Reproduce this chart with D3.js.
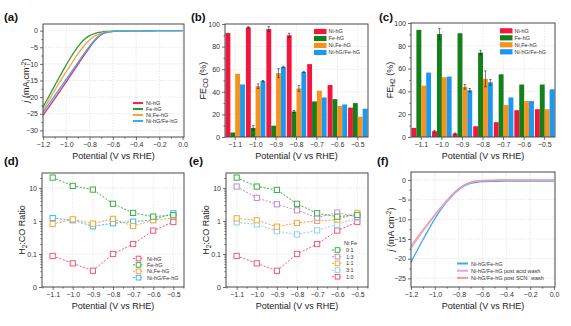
<!DOCTYPE html>
<html><head><meta charset="utf-8">
<script src="https://cdn.jsdelivr.net/npm/d3@7"></script>
<style>
body{margin:0;background:#fff}
svg{display:block;font-family:Arial,"Liberation Sans",sans-serif}
</style>
</head><body>
<svg id="fig" width="571" height="326"></svg>
<script>
// ---------- data ----------
const potentials = [-1.1, -1.0, -0.9, -0.8, -0.7, -0.6, -0.5];
const catalysts = ["Ni-hG", "Fe-hG", "Ni,Fe-hG", "Ni-hG/Fe-hG"];
const ratioLabels = ["0:1", "1:3", "1:1", "3:1", "1:0"];

// LSV curves, panel (a)
const lsvV = [-1.2,-1.15,-1.1,-1.05,-1.0,-0.95,-0.9,-0.85,-0.8,-0.75,-0.7,-0.65,-0.6,-0.55,-0.5,-0.4,-0.3,-0.2,-0.1,0];
const lsvNi   = [-25.5,-23,-20.5,-18,-15.4,-12.8,-10.2,-7.6,-5.1,-2.8,-1.2,-0.5,-0.25,-0.15,-0.1,-0.05,-0.03,-0.02,-0.01,0];
const lsvFe   = [-23,-19.8,-16.6,-13.4,-10.3,-7.4,-4.8,-2.8,-1.5,-0.8,-0.45,-0.25,-0.15,-0.1,-0.07,-0.04,-0.03,-0.02,-0.01,0];
const lsvNiFe = [-24,-21,-18,-15.1,-12.3,-9.6,-7,-4.7,-2.8,-1.5,-0.8,-0.4,-0.2,-0.12,-0.08,-0.05,-0.03,-0.02,-0.01,0];
const lsvMix  = [-24.6,-22.1,-19.6,-17.1,-14.6,-12.1,-9.6,-7.1,-4.7,-2.6,-1.1,-0.5,-0.25,-0.15,-0.1,-0.05,-0.03,-0.02,-0.01,0];

// Faradaic efficiencies, panel (b) CO and (c) H2
const feCO_Ni   = [92, 97, 95.5, 90, 64.5, 46, 26];
const feCO_Fe   = [4, 8, 10, 22.5, 31.5, 33.5, 30];
const feCO_NiFe = [56, 45, 56.5, 43, 41, 27.5, 18];
const feCO_Mix  = [46.5, 49.5, 62, 57.5, 35, 28.8, 25];
const errCO_Ni   = [0, 0.6, 2.2, 1.8, 0, 0, 0];
const errCO_Fe   = [0, 2, 0, 1, 0, 0, 0];
const errCO_NiFe = [0, 2, 4, 2.5, 0, 0, 0];
const errCO_Mix  = [0, 0.5, 0.6, 0.6, 0, 0, 0];

const feH2_Ni   = [8, 5, 3, 9.4, 13, 23.5, 24.4];
const feH2_Fe   = [94, 90.3, 91, 74, 55, 46, 46];
const feH2_NiFe = [45, 52.4, 44, 51, 28, 31.5, 24.4];
const feH2_Mix  = [56.5, 53, 41, 48, 34.7, 31.5, 41.8];
const errH2_Ni   = [0, 0.8, 0.5, 0, 0, 0, 0];
const errH2_Fe   = [0, 5, 0, 2, 0, 0, 0];
const errH2_NiFe = [0, 0, 2, 7, 0, 0, 0];
const errH2_Mix  = [0, 0, 1.5, 2.5, 0, 0, 0];

// H2:CO ratios, panel (d)
const ratioNi   = [0.087, 0.052, 0.031, 0.1, 0.2, 0.51, 0.93];
const ratioFe   = [20.5, 11.5, 8.9, 3.3, 1.75, 1.35, 1.5];
const ratioNiFe = [0.81, 1.12, 0.83, 1.15, 0.7, 1.05, 1.23];
const ratioMix  = [1.23, 1.05, 0.69, 0.85, 0.95, 1.07, 1.7];

// H2:CO ratios vs Ni:Fe composition, panel (e)
const ratio01 = [20.5, 11, 8.7, 3.3, 1.7, 1.35, 1.52];
const ratio13 = [11, 5, 3.2, 2.1, 1.26, 1.8, 1.32];
const ratio11 = [1.2, 1.05, 0.67, 0.87, 1.0, 1.1, 1.75];
const ratio31 = [0.91, 0.79, 0.49, 0.39, 0.52, 0.77, 1.26];
const ratio10 = [0.087, 0.052, 0.031, 0.1, 0.2, 0.51, 0.93];

// LSV stability after washing, panel (f)
const washV     = [-1.2,-1.1,-1.0,-0.9,-0.85,-0.8,-0.75,-0.7,-0.65,-0.6,-0.5,-0.4,-0.2,0];
const washMix   = [-20.9,-15.2,-9.9,-5.6,-3.9,-2.5,-1.5,-0.9,-0.6,-0.45,-0.35,-0.3,-0.3,-0.3];
const washAcid  = [-17.4,-13.1,-9.1,-5.4,-3.7,-2.3,-1.3,-0.7,-0.4,-0.25,-0.15,-0.1,-0.05,-0.05];
const washSCN   = [-16.8,-12.7,-8.8,-5.2,-3.6,-2.2,-1.2,-0.55,-0.25,-0.12,-0.05,0,0,0];
const washLabels = ["Ni-hG/Fe-hG", "Ni-hG/Fe-hG post acid wash", "Ni-hG/Fe-hG post SCN\u207B wash"];

// ---------- styling ----------
const FONT = 'Arial, "Liberation Sans", sans-serif';
const barColors  = ["#f2163f", "#13801a", "#f7931d", "#1d98f1"];
const lsvColors  = ["#f2294f", "#2f9a38", "#f8a445", "#35aef5"];
const dotColors  = ["#f45877", "#3dae45", "#f8a63c", "#3db4f2"];
const compColors = ["#3dae45", "#c48ad8", "#f8a63c", "#8cd2f4", "#f45877"];
const washColors = ["#36acf5", "#d8a8ea", "#f79a9a"];

const svg = d3.select("#fig");

const boxes = {
  a: {x: 43, y: 24, w: 141, h: 113},
  b: {x: 225, y: 24, w: 143, h: 113},
  c: {x: 411, y: 23, w: 144, h: 114},
  d: {x: 42, y: 173, w: 142, h: 114},
  e: {x: 226, y: 173, w: 142, h: 114},
  f: {x: 411, y: 172, w: 144, h: 115}
};

function panel(b) { return svg.append("g").attr("transform", `translate(${b.x},${b.y})`); }

function frame(g, b) {
  g.append("rect").attr("width", b.w).attr("height", b.h)
    .attr("fill", "none").attr("stroke", "#4a4a4a").attr("stroke-width", 1);
}

function styleAxis(sel) {
  sel.select(".domain").remove();
  sel.selectAll("line").attr("stroke", "#4a4a4a").attr("stroke-width", 0.8);
  sel.selectAll("text").attr("font-size", 7).attr("fill", "#333").attr("font-family", FONT);
}

function hGrid(g, b, y, vals) {
  g.append("g").selectAll("line").data(vals).join("line")
    .attr("x1", 0).attr("x2", b.w).attr("y1", d => y(d)).attr("y2", d => y(d))
    .attr("stroke", "#d4d4d4").attr("stroke-width", 0.6).attr("stroke-dasharray", "1.2,1.4");
}
function vGrid(g, b, xs) {
  g.append("g").selectAll("line").data(xs).join("line")
    .attr("y1", 0).attr("y2", b.h).attr("x1", d => d).attr("x2", d => d)
    .attr("stroke", "#d4d4d4").attr("stroke-width", 0.6).attr("stroke-dasharray", "1.2,1.4");
}

function bottomAxis(g, b, scale, major, minor, fmt) {
  if (minor) {
    g.append("g").attr("transform", `translate(0,${b.h})`)
      .call(d3.axisBottom(scale).tickValues(minor).tickSize(1.6).tickFormat(""))
      .call(styleAxis);
  }
  const ax = d3.axisBottom(scale).tickSize(3).tickPadding(2);
  if (major) ax.tickValues(major);
  if (fmt) ax.tickFormat(fmt);
  g.append("g").attr("transform", `translate(0,${b.h})`).call(ax).call(styleAxis);
}
function leftAxis(g, scale, major, minor, fmt) {
  if (minor) {
    g.append("g").call(d3.axisLeft(scale).tickValues(minor).tickSize(1.6).tickFormat(""))
      .call(styleAxis);
  }
  g.append("g").call(d3.axisLeft(scale).tickValues(major).tickSize(3).tickPadding(2).tickFormat(fmt))
    .call(styleAxis);
}

function panelLabel(x, y, t) {
  svg.append("text").attr("x", x).attr("y", y).attr("font-size", 11.5).attr("font-weight", "bold")
    .attr("fill", "#111").attr("font-family", FONT).text(t);
}
function xTitle(b, y) {
  svg.append("text").attr("x", b.x + b.w / 2).attr("y", y).attr("text-anchor", "middle")
    .attr("font-size", 9).attr("fill", "#222").attr("font-family", FONT).text("Potential (V vs RHE)");
}
// rotated y title built from [text, kind] parts: kind = "", "sub", "sup", "it"
function yTitle(x, cy, parts) {
  const t = svg.append("text").attr("transform", `translate(${x},${cy}) rotate(-90)`)
    .attr("text-anchor", "middle").attr("font-size", 9).attr("fill", "#222").attr("font-family", FONT);
  let shift = 0;
  parts.forEach(([s, k]) => {
    const sp = t.append("tspan").text(s);
    let target = 0;
    if (k === "sub") { sp.attr("font-size", 6.5); target = 2.2; }
    if (k === "sup") { sp.attr("font-size", 6.5); target = -3.2; }
    if (k === "it") sp.attr("font-style", "italic");
    sp.attr("dy", target - shift);
    shift = target;
  });
}

const fmt1 = d3.format(".1f");
const potFmt = d => fmt1(d);

// ---------- (a) LSV ----------
(function () {
  const b = boxes.a, g = panel(b);
  const x = d3.scaleLinear().domain([-1.2, 0.012]).range([0, b.w]);
  const y = d3.scaleLinear().domain([-32, 2]).range([b.h, 0]);
  const yMaj = [0, -5, -10, -15, -20, -25, -30];
  const xMaj = [-1.2, -1.0, -0.8, -0.6, -0.4, -0.2, 0.0];
  hGrid(g, b, y, yMaj);
  vGrid(g, b, xMaj.map(x));
  const series = [lsvNi, lsvFe, lsvNiFe, lsvMix];
  const line = d3.line().x((d, i) => x(lsvV[i])).y(d => y(d)).curve(d3.curveMonotoneX);
  series.forEach((s, k) => {
    g.append("path").datum(s).attr("d", line).attr("fill", "none")
      .attr("stroke", lsvColors[k]).attr("stroke-width", 1.3);
  });
  frame(g, b);
  bottomAxis(g, b, x, xMaj, d3.range(-1.1, 0, 0.2).map(v => +v.toFixed(1)), potFmt);
  leftAxis(g, y, yMaj, d3.range(-2.5, -32, -5), d3.format("d"));
  const lg = g.append("g").attr("transform", "translate(90,79)");
  catalysts.forEach((c, k) => {
    lg.append("line").attr("x1", 0).attr("x2", 10).attr("y1", k * 6).attr("y2", k * 6)
      .attr("stroke", lsvColors[k]).attr("stroke-width", 2);
    lg.append("text").attr("x", 13).attr("y", k * 6 + 2).attr("font-size", 5.5)
      .attr("fill", "#333").attr("font-family", FONT).text(c);
  });
})();

// ---------- bar panels (b), (c) ----------
function barPanel(b, seriesList, errList, legendPos) {
  const g = panel(b);
  const x = d3.scaleBand().domain(potentials).range([0, b.w]).padding(0);
  const xs = d3.scaleBand().domain(catalysts).range([0, x.bandwidth()]).paddingInner(0).paddingOuter(0.1);
  const y = d3.scaleLinear().domain([0, 100]).range([b.h, 0]);
  const yMaj = [0, 20, 40, 60, 80, 100];
  hGrid(g, b, y, yMaj.slice(1, 5));
  vGrid(g, b, potentials.map(p => x(p) + x.bandwidth() / 2));
  seriesList.forEach((s, k) => {
    g.append("g").selectAll("rect").data(s).join("rect")
      .attr("x", (d, i) => x(potentials[i]) + xs(catalysts[k]))
      .attr("width", xs.bandwidth())
      .attr("y", d => y(d)).attr("height", d => b.h - y(d))
      .attr("fill", barColors[k]);
    const eg = g.append("g").attr("stroke", "#222").attr("stroke-width", 0.6);
    s.forEach((v, i) => {
      const e = errList[k][i];
      if (!e) return;
      const cx = x(potentials[i]) + xs(catalysts[k]) + xs.bandwidth() / 2;
      eg.append("line").attr("x1", cx).attr("x2", cx).attr("y1", y(v - e)).attr("y2", y(v + e));
      eg.append("line").attr("x1", cx - 1.2).attr("x2", cx + 1.2).attr("y1", y(v + e)).attr("y2", y(v + e));
      eg.append("line").attr("x1", cx - 1.2).attr("x2", cx + 1.2).attr("y1", y(v - e)).attr("y2", y(v - e));
    });
  });
  frame(g, b);
  bottomAxis(g, b, x, null, null, potFmt);
  leftAxis(g, y, yMaj, [10, 30, 50, 70, 90], d3.format("d"));
  const lg = g.append("g").attr("transform", `translate(${legendPos[0]},${legendPos[1]})`);
  catalysts.forEach((c, k) => {
    lg.append("rect").attr("x", 0).attr("y", k * 7 - 2.6).attr("width", 12.5).attr("height", 5.2)
      .attr("fill", barColors[k]);
    lg.append("text").attr("x", 14.5).attr("y", k * 7 + 1.9).attr("font-size", 5.5)
      .attr("fill", "#333").attr("font-family", FONT).text(c);
  });
}
barPanel(boxes.b, [feCO_Ni, feCO_Fe, feCO_NiFe, feCO_Mix],
  [errCO_Ni, errCO_Fe, errCO_NiFe, errCO_Mix], [89, 7.5]);
barPanel(boxes.c, [feH2_Ni, feH2_Fe, feH2_NiFe, feH2_Mix],
  [errH2_Ni, errH2_Fe, errH2_NiFe, errH2_Mix], [89, 7.8]);

// ---------- ratio panels (d), (e) ----------
function ratioPanel(b, seriesList, colors, labels, legendPos, legendTitle) {
  const g = panel(b);
  const x = d3.scaleLinear().domain([-1.153, -0.447]).range([0, b.w]);
  const y = d3.scaleLog().domain([0.01, 28.3]).range([b.h, 0]);
  const yMaj = [0.01, 0.1, 1, 10];
  hGrid(g, b, y, [0.1, 1, 10]);
  vGrid(g, b, potentials.map(x));
  const minor = [];
  [0.01, 0.1, 1, 10].forEach(dec => d3.range(2, 10).forEach(m => { if (dec * m < 28) minor.push(dec * m); }));
  const line = d3.line().x((d, i) => x(potentials[i])).y(d => y(d));
  // draw so that the first legend entry ends on top
  seriesList.map((s, k) => [s, k]).reverse().forEach(([s, k]) => {
    g.append("path").datum(s).attr("d", line).attr("fill", "none")
      .attr("stroke", colors[k]).attr("stroke-width", 1).attr("stroke-dasharray", "2,1.6");
    g.append("g").selectAll("rect").data(s).join("rect")
      .attr("x", (d, i) => x(potentials[i]) - 2.6).attr("y", d => y(d) - 2.6)
      .attr("width", 5.2).attr("height", 5.2)
      .attr("fill", "#fff").attr("stroke", colors[k]).attr("stroke-width", 1);
  });
  frame(g, b);
  bottomAxis(g, b, x, potentials, d3.range(-1.15, -0.44, 0.1).map(v => +v.toFixed(2)), potFmt);
  leftAxis(g, y, yMaj, minor, d => d === 0.01 ? "0" : (d < 1 ? String(d) : d3.format("d")(d)));
  const lg = g.append("g").attr("transform", `translate(${legendPos[0]},${legendPos[1]})`);
  if (legendTitle) {
    lg.append("text").attr("x", 12).attr("y", -5.2).attr("font-size", 5.5)
      .attr("fill", "#333").attr("font-family", FONT).text(legendTitle);
  }
  const step = legendTitle ? 6.7 : 6.4;
  labels.forEach((c, k) => {
    const yy = k * step;
    lg.append("line").attr("x1", 0).attr("x2", 11).attr("y1", yy).attr("y2", yy)
      .attr("stroke", colors[k]).attr("stroke-width", 1).attr("stroke-dasharray", "2,1.6");
    lg.append("rect").attr("x", 3.2).attr("y", yy - 2.3).attr("width", 4.6).attr("height", 4.6)
      .attr("fill", "#fff").attr("stroke", colors[k]).attr("stroke-width", 1);
    lg.append("text").attr("x", 14).attr("y", yy + 2).attr("font-size", 5.5)
      .attr("fill", "#333").attr("font-family", FONT).text(c);
  });
}
ratioPanel(boxes.d, [ratioNi, ratioFe, ratioNiFe, ratioMix],
  [dotColors[0], dotColors[1], dotColors[2], dotColors[3]], catalysts, [91, 85.5]);
ratioPanel(boxes.e, [ratio01, ratio13, ratio11, ratio31, ratio10],
  compColors, ratioLabels, [106, 77], "Ni:Fe");

// ---------- (f) wash stability ----------
(function () {
  const b = boxes.f, g = panel(b);
  const x = d3.scaleLinear().domain([-1.2, 0.008]).range([0, b.w]);
  const y = d3.scaleLinear().domain([-27.2, 2]).range([b.h, 0]);
  const yMaj = [0, -5, -10, -15, -20, -25];
  const xMaj = [-1.2, -1.0, -0.8, -0.6, -0.4, -0.2, 0.0];
  hGrid(g, b, y, yMaj);
  vGrid(g, b, xMaj.map(x));
  const line = d3.line().x((d, i) => x(washV[i])).y(d => y(d)).curve(d3.curveMonotoneX);
  [washMix, washAcid, washSCN].forEach((s, k) => {
    g.append("path").datum(s).attr("d", line).attr("fill", "none")
      .attr("stroke", washColors[k]).attr("stroke-width", 1.3);
  });
  frame(g, b);
  bottomAxis(g, b, x, xMaj, d3.range(-1.1, 0, 0.2).map(v => +v.toFixed(1)), potFmt);
  leftAxis(g, y, yMaj, d3.range(-2.5, -27, -5), d3.format("d"));
  const lg = g.append("g").attr("transform", "translate(46,91.5)");
  washLabels.forEach((c, k) => {
    lg.append("line").attr("x1", 0).attr("x2", 11).attr("y1", k * 7.2).attr("y2", k * 7.2)
      .attr("stroke", washColors[k]).attr("stroke-width", 2);
    lg.append("text").attr("x", 14).attr("y", k * 7.2 + 2).attr("font-size", 5.5)
      .attr("fill", "#333").attr("font-family", FONT).text(c);
  });
})();

// ---------- titles and panel letters ----------
panelLabel(4, 21, "(a)"); panelLabel(191, 21, "(b)"); panelLabel(379, 21, "(c)");
panelLabel(4, 165, "(d)"); panelLabel(189, 165, "(e)"); panelLabel(377, 165, "(f)");
xTitle(boxes.a, 159); xTitle(boxes.b, 159); xTitle(boxes.c, 159);
xTitle(boxes.d, 309); xTitle(boxes.e, 309); xTitle(boxes.f, 309);
yTitle(29, 80.5, [["j", "it"], [" (mA cm", ""], ["-2", "sup"], [")", ""]]);
yTitle(206, 80.5, [["FE", ""], ["CO", "sub"], [" (%)", ""]]);
yTitle(393, 80, [["FE", ""], ["H2", "sub"], [" (%)", ""]]);
yTitle(24.5, 230, [["H", ""], ["2", "sub"], [":CO Ratio", ""]]);
yTitle(209, 230, [["H", ""], ["2", "sub"], [":CO Ratio", ""]]);
yTitle(394, 229.5, [["j", "it"], [" (mA cm", ""], ["-2", "sup"], [")", ""]]);
</script>
</body></html>
